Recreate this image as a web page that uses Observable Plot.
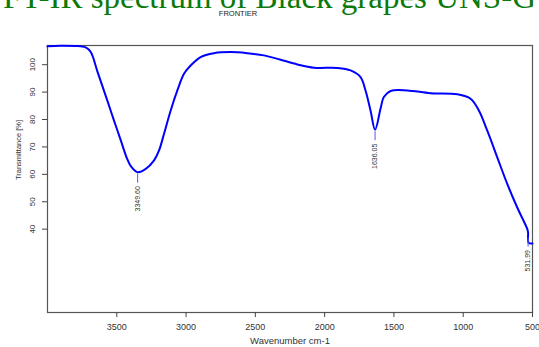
<!DOCTYPE html>
<html>
<head>
<meta charset="utf-8">
<script src="https://cdn.jsdelivr.net/npm/d3@7"></script>
<script src="https://cdn.jsdelivr.net/npm/@observablehq/plot@0.6"></script>
<style>
  html, body { margin: 0; padding: 0; background: #fff; }
  #wrap { position: relative; width: 539px; height: 347px; overflow: hidden; background: #fff; }
  #title { position: absolute; left: 0; width: 539px; top: -19px; text-align: center; white-space: nowrap;
           font-family: "Liberation Serif", "DejaVu Serif", serif; font-size: 33px; line-height: 33px; color: #0b7a0b; }
  #sub { position: absolute; left: 0; width: 476px; top: 9px; text-align: center;
         font-family: "Liberation Sans", Arial, sans-serif; font-size: 7.5px; color: #222; }
  #chart { position: absolute; left: 0; top: 0; }
</style>
</head>
<body>
<div id="wrap">
  <div id="chart"></div>
  <div id="title">FT-IR spectrum of Black grapes UNS-G</div>
  <div id="sub">FRONTIER</div>
</div>
<script>
// Spectrum
const wavenumbers = [4000, 3904, 3796, 3760, 3724, 3688, 3639, 3567, 3520, 3471, 3428, 3399, 3350, 3291, 3231, 3195, 3159, 3111, 3063, 3015, 2967, 2895, 2799, 2678, 2558, 2438, 2318, 2197, 2077, 1909, 1813, 1741, 1705, 1669, 1636, 1596, 1573, 1524, 1404, 1236, 1043, 947, 887, 827, 755, 683, 611, 538, 532, 528, 500];
const transmittance = [106.7, 106.9, 106.8, 106.7, 106.3, 104.6, 97.4, 86.7, 79.6, 72.4, 66.0, 63.0, 60.8, 62.0, 65.1, 68.7, 74.8, 83.3, 90.6, 96.7, 99.7, 102.8, 104.2, 104.6, 104.2, 103.4, 101.8, 100.1, 98.9, 98.8, 97.9, 95.5, 90.6, 83.3, 76.3, 84.1, 88.2, 90.4, 90.6, 89.6, 89.2, 87.6, 83.3, 76.0, 66.3, 56.6, 48.0, 40.1, 38.8, 35.0, 34.8];

// Peak annotations
const peakWavenumbers = [3349.60, 1636.05, 531.99];
const peakTransmittance = [60.8, 76.3, 37.5];
const peakLabels = ["3349.60", "1636.05", "531.99"];

// Axis ticks
const xTicks = [3500, 3000, 2500, 2000, 1500, 1000, 500];
const yTicks = [40, 50, 60, 70, 80, 90, 100];

const spectrum = wavenumbers.map((w, i) => ({w, t: transmittance[i]}));
const peaks = peakWavenumbers.map((w, i) => ({w, t: peakTransmittance[i], label: peakLabels[i]}));

const chart = Plot.plot({
  width: 539,
  height: 347,
  marginLeft: 47,
  marginRight: 7,
  marginTop: 45,
  marginBottom: 35,
  style: {fontFamily: "'Liberation Sans', Arial, sans-serif", fontSize: "9px", color: "#333", background: "transparent", overflow: "visible"},
  x: {domain: [4000, 500]},
  y: {domain: [9.6, 107]},
  marks: [
    Plot.frame({stroke: "#555", strokeWidth: 1.2}),
    Plot.axisX({ticks: xTicks, tickSize: 5, tickPadding: 6, tickFormat: d => String(d), label: null, fontSize: 9, stroke: "#444"}),
    Plot.axisY({ticks: yTicks, tickSize: 5, tickFormat: () => "", label: null, stroke: "#444"}),
    Plot.text(yTicks, {y: d => d, text: d => String(d), frameAnchor: "left", textAnchor: "middle", lineAnchor: "middle", dx: -15, rotate: -90, fontSize: 8, fill: "#333"}),
    Plot.text(["Transmittance [%]"], {text: d => d, frameAnchor: "left", textAnchor: "middle", lineAnchor: "middle", dx: -29, dy: -29, rotate: -90, fontSize: 7.5, fill: "#333"}),
    Plot.text(["Wavenumber cm-1"], {text: d => d, frameAnchor: "bottom", textAnchor: "middle", lineAnchor: "middle", dy: 28, fontSize: 9.5, fill: "#333"}),
    Plot.line(spectrum, {x: "w", y: "t", stroke: "#0000ff", strokeWidth: 2, curve: "catmull-rom"}),
    Plot.ruleX(peaks, {x: "w", y1: "t", y2: "t", insetTop: 2, insetBottom: -11, stroke: "#5555ff", strokeWidth: 1}),
    Plot.text(peaks, {x: "w", y: "t", text: "label", rotate: -90, textAnchor: "end", lineAnchor: "middle", dy: 14, fontSize: 7, fill: "#333"})
  ]
});
document.getElementById("chart").appendChild(chart);
</script>
</body>
</html>
